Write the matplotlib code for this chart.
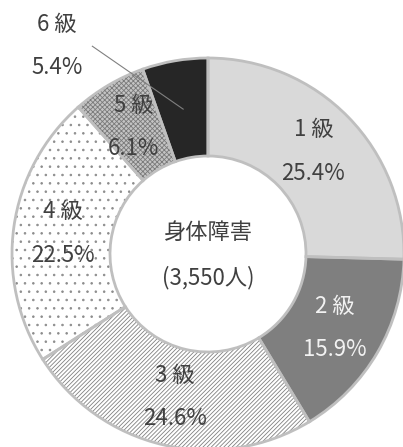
import numpy as np
import matplotlib
matplotlib.use("Agg")
import matplotlib.pyplot as plt

plt.rcParams['font.family'] = ['Noto Sans CJK JP', 'DejaVu Sans']
plt.rcParams['hatch.linewidth'] = 0.6

# data
grades = ['1 級', '2 級', '3 級', '4 級', '5 級', '6 級']
shares = [25.4, 15.9, 24.6, 22.5, 6.1, 5.4]
center_title = '身体障害'
center_total = '(3,550人)'

# styles
fills = ['#d9d9d9', '#7f7f7f', 'white', 'white', '#c4c4c4', '#262626']
hatches = [None, None, '////////', '..', 'xxxxxxx', None]
hatch_cols = ['#d9d9d9', '#7f7f7f', '#808080', '#8c8c8c', '#7a7a7a', '#262626']
text_cols = ['#404040', '#f2f2f2', '#404040', '#404040', '#404040', '#404040']

W, H = 403, 447
R = 196.0
cx, cy = 208, 254

fig = plt.figure(figsize=(W / 100, H / 100), dpi=100)
ax = fig.add_axes([0, 0, 1, 1])

ring = 0.5
wedges, _ = ax.pie(shares, startangle=90, counterclock=False, radius=1,
                   colors=fills, wedgeprops=dict(width=ring, linewidth=0))
for w, h, hc in zip(wedges, hatches, hatch_cols):
    w.set_edgecolor(hc)
    if h:
        w.set_hatch(h)

# borders
ax.pie(shares, startangle=90, counterclock=False, radius=1,
       wedgeprops=dict(width=ring, facecolor='none', edgecolor='#bfbfbf',
                       linewidth=2))

ax.set_xlim(-cx / R, (W - cx) / R)
ax.set_ylim(-(H - cy) / R, cy / R)
ax.set_aspect('equal')
ax.axis('off')

fs = 16
rmid = 1 - ring / 2
for i, w in enumerate(wedges):
    ang = np.deg2rad((w.theta1 + w.theta2) / 2)
    x, y = rmid * np.cos(ang), rmid * np.sin(ang)
    if i == 5:
        # outside label with leader line
        tx, ty = -0.59, 1.06
        ax.plot([x, tx], [y, ty], color='#808080', lw=0.8)
        ax.text(-0.77, 1.17, grades[i], ha='center', va='center',
                fontsize=fs, color=text_cols[i])
        ax.text(-0.77, 0.95, f'{shares[i]}%', ha='center', va='center',
                fontsize=fs, color=text_cols[i])
        continue
    ax.text(x, y + 0.11, grades[i], ha='center', va='center',
            fontsize=fs, color=text_cols[i])
    ax.text(x, y - 0.11, f'{shares[i]}%', ha='center', va='center',
            fontsize=fs, color=text_cols[i])

ax.text(0, 0.11, center_title, ha='center', va='center', fontsize=fs, color='#404040')
ax.text(0, -0.12, center_total, ha='center', va='center', fontsize=fs, color='#404040')

fig.savefig('out.png', dpi=100)
